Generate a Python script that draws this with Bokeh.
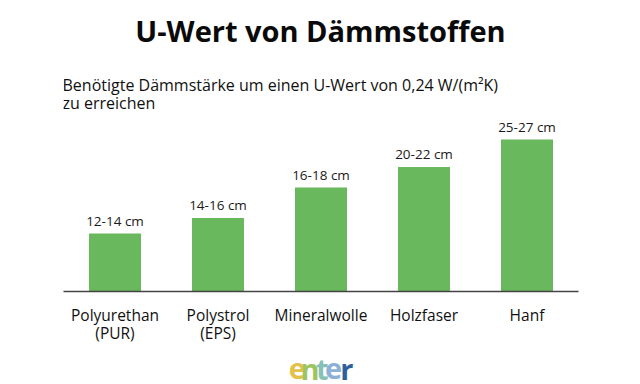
from bokeh.plotting import figure
from bokeh.models import Range1d, ColumnDataSource, Label
from bokeh.layouts import column
from bokeh.core.properties import value
from bokeh.embed import file_html
from bokeh.resources import INLINE

# ---- data ----
categories = ["Polyurethan\n(PUR)", "Polystrol\n(EPS)", "Mineralwolle", "Holzfaser", "Hanf"]
thickness_labels = ["12-14 cm", "14-16 cm", "16-18 cm", "20-22 cm", "25-27 cm"]
bar_heights = [58, 73.5, 104, 124.5, 152]   # relative bar heights

title_text = "U-Wert von Dämmstoffen"
subtitle_lines = ["Benötigte Dämmstärke um einen U-Wert von 0,24 W/(m²K)", "zu erreichen"]
logo_letters = ["e", "n", "t", "e", "r"]
logo_colors = ["#E2C24A", "#9DC45E", "#86C1B4", "#8DB1D6", "#2E5E9C"]

FONT = "Open Sans"
BAR_COLOR = "#6AB85D"

W = 640
LOGO_H = 34
H = 384 - LOGO_H
LEFT, RIGHT, TOP = 63, 62, 0
FRAME_H = 291
BOTTOM = H - FRAME_H

p = figure(width=W, height=H, x_range=categories, y_range=Range1d(0, FRAME_H),
           output_backend="svg", toolbar_location=None, y_axis_location=None,
           min_border_left=LEFT, min_border_right=RIGHT,
           min_border_top=TOP, min_border_bottom=BOTTOM,
           outline_line_color=None, background_fill_color="white",
           border_fill_color="white")
p.xgrid.visible = False
p.ygrid.visible = False

src = ColumnDataSource(dict(cat=categories, h=bar_heights, lab=thickness_labels))
p.vbar(x="cat", top="h", width=0.505, source=src, fill_color=BAR_COLOR, line_color=None)
p.text(x="cat", y="h", text="lab", source=src, text_align="center",
       text_baseline="alphabetic", y_offset=-13, text_font=value(FONT),
       text_font_size="13.5px", text_color="#1a1a1a")

ax = p.xaxis[0]
ax.axis_line_color = "#444444"
ax.axis_line_width = 1.5
ax.major_tick_line_color = None
ax.minor_tick_line_color = None
ax.major_label_text_font = FONT
ax.major_label_text_font_size = "15.5px"
ax.major_label_text_color = "#111111"
ax.major_label_standoff = 6
ax.major_label_text_line_height = 0.85


def ydata(px):
    # canvas pixel row -> data y
    return FRAME_H - (px - TOP)


def xdata(px):
    return (px - LEFT) / ((W - LEFT - RIGHT) / len(categories))


p.add_layout(Label(x=xdata(320), y=ydata(30), text=title_text, text_align="center",
                   text_baseline="alphabetic", text_font=FONT, text_font_size="29px",
                   text_font_style="bold", text_color="#0a0a0a"))
for i, line in enumerate(subtitle_lines):
    p.add_layout(Label(x=xdata(62), y=ydata(84 + 18.5 * i), text=line, text_align="left",
                       text_baseline="alphabetic", text_font=FONT, text_font_size="16px",
                       text_color="#111111"))

# ---- logo strip at the bottom ----
logo = figure(width=W, height=LOGO_H, x_range=Range1d(0, W), y_range=Range1d(0, LOGO_H),
              output_backend="svg", toolbar_location=None,
              x_axis_location=None, y_axis_location=None,
              min_border=0, outline_line_color=None,
              background_fill_color="white", border_fill_color="white")
logo.xgrid.visible = False
logo.ygrid.visible = False
logo_x = [290.5, 306.5, 321.5, 335.5, 352]
for ch, col, lx in zip(logo_letters, logo_colors, logo_x):
    logo.add_layout(Label(x=lx, y=16, text=ch, text_align="center",
                          text_baseline="alphabetic", text_font=FONT, text_font_size="29px",
                          text_font_style="bold", text_color=col))

layout = column(p, logo, spacing=0)
open("out.html", "w").write(file_html(layout, INLINE))
